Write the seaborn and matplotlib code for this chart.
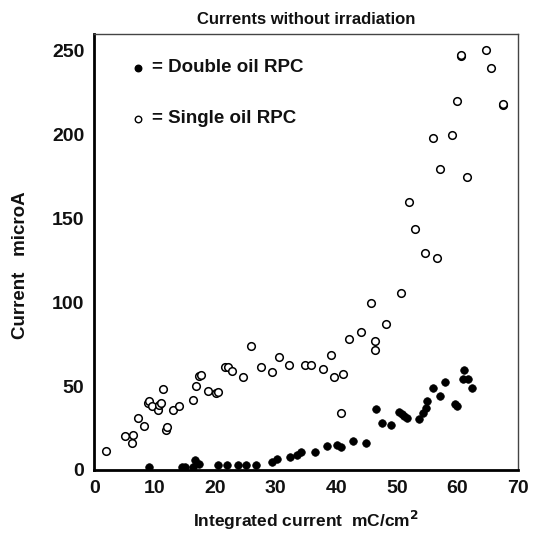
import matplotlib
matplotlib.use("Agg")
import matplotlib.pyplot as plt
import seaborn as sns
from matplotlib.ticker import MultipleLocator

# single oil RPC (open circles)
single_x = [1.9, 5.1, 6.2, 6.5, 7.3, 8.3, 8.9, 9.0, 9.5, 10.5, 10.8, 11.1, 11.3,
            11.8, 12.0, 13.0, 14.0, 16.3, 16.8, 17.4, 17.6, 18.8, 20.2, 20.4,
            21.7, 22.2, 22.8, 24.6, 26.0, 27.5, 29.4, 30.6, 32.2, 34.9, 35.9,
            37.9, 39.1, 39.7, 40.8, 41.1, 42.1, 44.1, 45.8, 46.4, 46.4, 48.3,
            50.7, 52.0, 53.1, 54.7, 56.0, 56.6, 57.2, 59.2, 59.9, 60.6, 60.7,
            61.6, 64.7, 65.6, 67.5, 67.6]
single_y = [11, 20, 16, 21, 31, 26, 40, 41, 38, 36, 39, 40, 48,
            24, 25.5, 35.5, 38, 42, 50, 56, 56.5, 47, 46, 46.5,
            61.5, 61.5, 59.3, 55.3, 74.2, 61.3, 58.3, 67.2, 62.5, 62.5, 62.5,
            60.3, 68.4, 55.3, 34.2, 57.3, 78.4, 82.3, 99.5, 77.2, 71.4, 87.3,
            105.4, 159.7, 143.6, 129.5, 197.9, 126.7, 179.8, 200, 220.3, 247, 247.5,
            174.6, 250.6, 240, 217.8, 218.5]

# double oil RPC (filled circles)
double_x = [9.0, 14.5, 15.0, 16.3, 16.7, 17.3, 20.5, 21.9, 23.8, 25.1, 26.7,
            29.4, 30.2, 32.4, 33.5, 34.2, 36.5, 38.5, 40.2, 40.8, 42.7, 45.0,
            46.5, 47.6, 49.1, 50.3, 50.8, 51.2, 51.7, 53.7, 54.4, 54.9, 55.0,
            56.0, 57.1, 57.9, 59.7, 59.9, 61.1, 61.0, 61.7, 62.4]
double_y = [1.6, 2, 2, 2, 6, 3.4, 3, 3, 3, 3, 3,
            5, 6.4, 7.9, 9.1, 10.8, 10.7, 14.1, 14.7, 13.9, 17.1, 15.9,
            36.2, 28.2, 27.0, 34.4, 33.4, 32.2, 30.8, 30.2, 34.2, 37.0, 41.4,
            49.1, 44.2, 52.3, 39.2, 38.2, 59.5, 54.3, 54.3, 49.1]

sns.set_style("white")
plt.rcParams['font.family'] = ['Liberation Sans', 'DejaVu Sans']
plt.rcParams['font.weight'] = 'bold'
plt.rcParams['text.color'] = '#111111'
plt.rcParams['axes.labelcolor'] = '#111111'

fig = plt.figure(figsize=(5.41, 5.34), dpi=100)
ax = fig.add_axes([0.174, 0.120, 0.783, 0.816])

sns.scatterplot(x=single_x, y=single_y, ax=ax, s=30, marker='o',
                facecolor='white', edgecolor='black', linewidth=1.1, zorder=3)
sns.scatterplot(x=double_x, y=double_y, ax=ax, s=30, marker='o',
                color='black', edgecolor='black', linewidth=0.5, zorder=4)

# legend drawn as text inside the axes
ax.scatter([7.3], [240], s=22, color='black', zorder=4)
ax.scatter([7.3], [209.5], s=22, facecolor='white', edgecolor='black', linewidth=1.0, zorder=4)
ax.text(9.6, 240, '= Double oil RPC', fontsize=13.5, fontweight='bold', va='center')
ax.text(9.6, 209.5, '= Single oil RPC', fontsize=13.5, fontweight='bold', va='center')

ax.set_xlim(0, 70)
ax.set_ylim(0, 260)
ax.xaxis.set_major_locator(MultipleLocator(10))
ax.xaxis.set_minor_locator(MultipleLocator(2))
ax.yaxis.set_major_locator(MultipleLocator(50))
ax.yaxis.set_minor_locator(MultipleLocator(10))
ax.tick_params(which='both', direction='in', top=False, right=False,
               labelsize=14, width=1.2, colors='#111111')
ax.tick_params(which='major', length=8, pad=7)
ax.tick_params(which='minor', length=4)
for lab in ax.get_xticklabels() + ax.get_yticklabels():
    lab.set_fontweight('bold')
for sp in ['left', 'bottom']:
    ax.spines[sp].set_linewidth(2)
    ax.spines[sp].set_color('black')
for sp in ['top', 'right']:
    ax.spines[sp].set_linewidth(1)
    ax.spines[sp].set_color('#444444')

ax.set_xlabel('Integrated current  mC/cm$^{\\mathbf{2}}$', fontsize=12.5,
              fontweight='bold', labelpad=9)
ax.set_ylabel('Current   microA', fontsize=13.5, fontweight='bold')
ax.yaxis.set_label_coords(-0.153, 0.47)
ax.set_title('Currents without irradiation', fontsize=12, fontweight='bold', pad=7)

fig.savefig('out.png', dpi=100)
